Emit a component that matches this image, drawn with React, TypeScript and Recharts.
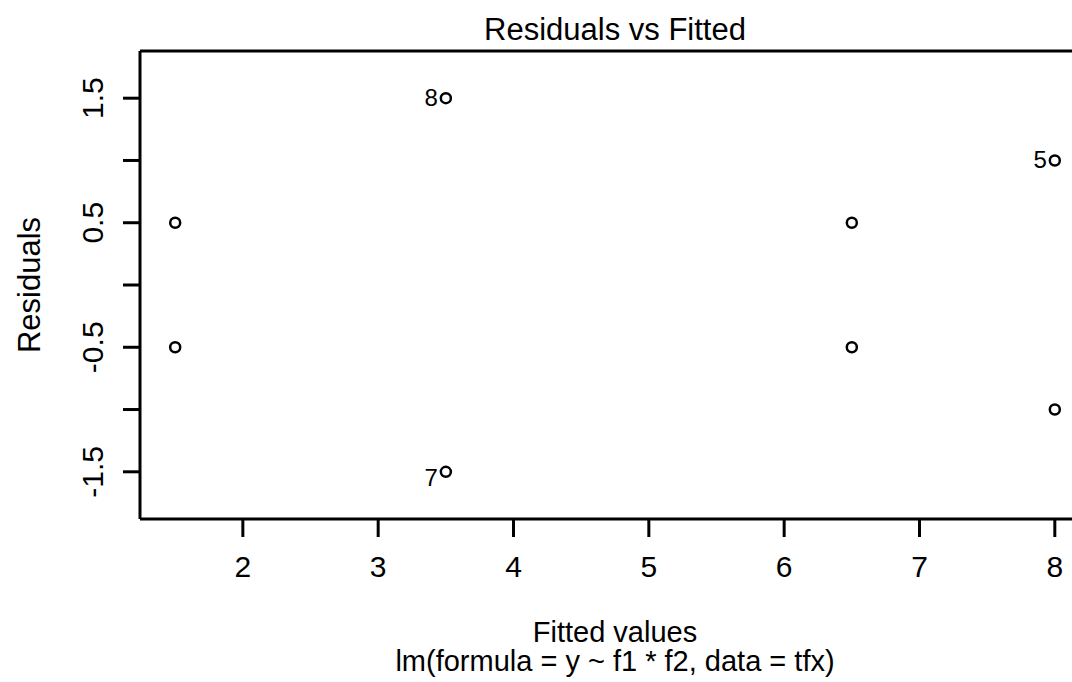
import { ScatterChart, Scatter, XAxis, YAxis, ReferenceLine } from 'recharts';

// residuals vs fitted for lm(y ~ f1 * f2, data = tfx)
const obsIds = ['1', '2', '3', '4', '5', '6', '7', '8'];
const fitted = [1.5, 1.5, 6.5, 6.5, 8, 8, 3.5, 3.5];
const residuals = [0.5, -0.5, 0.5, -0.5, 1.0, -1.0, -1.5, 1.5];
const labeledIds = ['5', '7', '8'];

const xTicks = [2, 3, 4, 5, 6, 7, 8];
const yTicks = [-1.5, -1, -0.5, 0, 0.5, 1, 1.5];
const yTickLabels = ['-1.5', '', '-0.5', '', '0.5', '', '1.5'];
const xDomain = [1.24, 8.26];
const yDomain = [-1.879, 1.879];

const FONT = '"Liberation Sans", Arial, Helvetica, sans-serif';

const points = fitted.map((f, i) => ({
  fitted: f,
  resid: residuals[i],
  id: labeledIds.includes(obsIds[i]) ? obsIds[i] : '',
}));

function PointShape(props: any) {
  const { cx, cy, payload } = props;
  return (
    <g>
      <circle cx={cx} cy={cy} r={5} fill="none" stroke="#000" strokeWidth={2.5} />
      {payload.id && (
        <text
          x={cx - 8}
          y={payload.resid < 0 ? cy + 14 : cy + 8}
          textAnchor="end"
          fontSize={24}
          fontFamily={FONT}
          fill="#000"
        >
          {payload.id}
        </text>
      )}
    </g>
  );
}

function XTick({ x, y, payload }: any) {
  return (
    <text x={x} y={y + 40} textAnchor="middle" fontSize={30} fontFamily={FONT} fill="#000">
      {String(payload.value)}
    </text>
  );
}

function YTick({ x, y, payload }: any) {
  const label = yTickLabels[yTicks.indexOf(payload.value)];
  if (!label) return null;
  return (
    <text
      x={x}
      y={y}
      transform={`rotate(-90 ${x} ${y})`}
      textAnchor="middle"
      fontSize={30}
      fontFamily={FONT}
      fill="#000"
    >
      {label}
    </text>
  );
}

export default function App() {
  return (
    <div
      style={{
        position: 'absolute', left: 0, top: 0, width: 1072, height: 682,
        overflow: 'hidden', background: '#fff',
      }}
    >
      <ScatterChart width={1110} height={682} margin={{ top: 51, right: 20, bottom: 103, left: 40 }}>
        <XAxis
          type="number"
          dataKey="fitted"
          domain={xDomain}
          ticks={xTicks}
          allowDataOverflow
          height={60}
          axisLine={{ stroke: '#000', strokeWidth: 3 }}
          tickLine={{ stroke: '#000', strokeWidth: 3 }}
          tickSize={18}
          tickMargin={0}
          tick={<XTick />}
        />
        <YAxis
          type="number"
          dataKey="resid"
          domain={yDomain}
          ticks={yTicks}
          allowDataOverflow
          width={100}
          axisLine={{ stroke: '#000', strokeWidth: 3 }}
          tickLine={{ stroke: '#000', strokeWidth: 3 }}
          tickSize={17}
          tickMargin={20}
          tick={<YTick />}
        />
        <ReferenceLine y={yDomain[1]} stroke="#000" strokeWidth={3} ifOverflow="visible" />
        <ReferenceLine x={xDomain[1]} stroke="#000" strokeWidth={3} ifOverflow="visible" />
        <Scatter data={points} shape={<PointShape />} isAnimationActive={false} />
      </ScatterChart>
      <svg
        width={1072}
        height={682}
        style={{ position: 'absolute', left: 0, top: 0, pointerEvents: 'none' }}
      >
        <text x={615} y={40} textAnchor="middle" fontSize={31} fontFamily={FONT} fill="#000">
          Residuals vs Fitted
        </text>
        <text
          x={40}
          y={285}
          transform="rotate(-90 40 285)"
          textAnchor="middle"
          fontSize={31}
          fontFamily={FONT}
          fill="#000"
        >
          Residuals
        </text>
        <text x={615} y={642} textAnchor="middle" fontSize={29} fontFamily={FONT} fill="#000">
          Fitted values
        </text>
        <text x={615} y={671} textAnchor="middle" fontSize={29} fontFamily={FONT} fill="#000">
          lm(formula = y ~ f1 * f2, data = tfx)
        </text>
      </svg>
    </div>
  );
}
